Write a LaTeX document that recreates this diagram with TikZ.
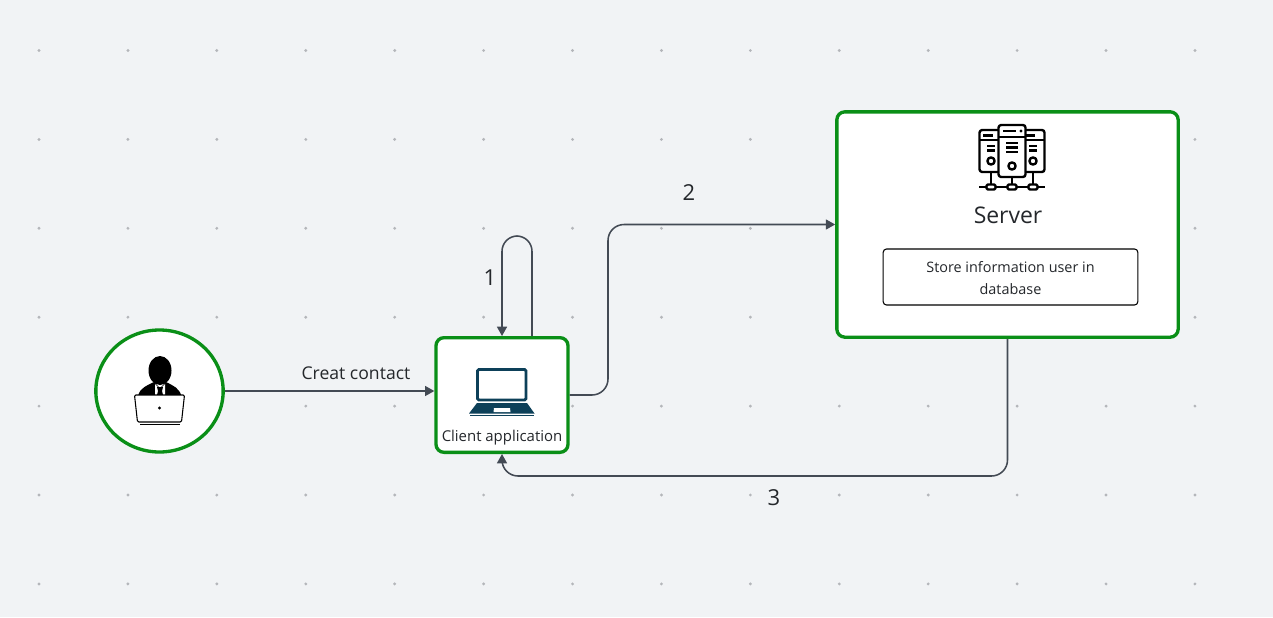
\documentclass[tikz,border=0pt]{standalone}
\usepackage{fontspec}
\setmainfont{Open Sans}
\usetikzlibrary{arrows.meta,shapes.geometric}
\definecolor{bgcol}{HTML}{F1F3F5}
\definecolor{dotcol}{HTML}{B4B6BA}
\definecolor{boxgreen}{HTML}{0A8F17}
\definecolor{linecol}{HTML}{434A54}
\definecolor{lapcol}{HTML}{0D4059}
\definecolor{txtcol}{HTML}{24272B}
\tikzset{
	>={Triangle[length=7pt,width=7.5pt]},
	greenbox/.style={draw=boxgreen,line width=2.5pt,fill=white,rounded corners=6pt,inner sep=0pt},
	conn/.style={draw=linecol,line width=1.15pt,->,rounded corners=12pt},
	lbl/.style={text=txtcol,font=\fontsize{13.2}{15}\selectfont,inner sep=0pt},
	num/.style={text=txtcol,font=\fontsize{16.5}{18}\selectfont,inner sep=0pt},
	icon/.style={line width=1.8pt,black,line join=round},
}
\begin{document}
\begin{tikzpicture}[x=0.75pt,y=-0.75pt]
	\fill[bgcol] (0,0) rectangle (1273,617);
	\useasboundingbox (0,0) rectangle (1273,617);

	% dotted canvas
	\foreach \i in {0,...,13}
	{
		\foreach \j in {0,...,6}
		{
			\def\x{39+88.92*\i}
			\def\y{50.5+88.9*\j}
			\fill[dotcol] ({\x},{\y}) circle (1.2pt);
		}
	}

	\node[ellipse,draw=boxgreen,line width=2.5pt,fill=white,minimum width=95.5pt,minimum height=91.5pt,inner sep=0pt] (user) at (159.5,391) {};
	\node[greenbox,minimum width=99pt,minimum height=86pt] (client) at (502,395) {};
	\node[greenbox,minimum width=256pt,minimum height=169pt] (server) at (1007.5,224.5) {};
	\node[draw=black,line width=0.8pt,fill=white,rounded corners=2.5pt,minimum width=191pt,minimum height=42pt,inner sep=0pt] (store) at (1010.5,277) {};
	\node[align=center,text=txtcol,font=\fontsize{10.8}{16.5}\selectfont,inner sep=0pt] (storetext) at (1010.5,278.5)
		{Store information user in\\database};

	\node[lbl,font=\fontsize{11.2}{13}\selectfont] (clientname) at (502,438) {Client application};
	\node[text=txtcol,font=\fontsize{17.2}{20}\selectfont,inner sep=0pt] (servername) at (1008,215) {Server};
	\node[lbl] (contact) at (356,373) {Creat contact};
	\node[num] (one) at (490,278) {1};
	\node[num] (two) at (689,193) {2};
	\node[num] (three) at (774,497.5) {3};

	\draw[conn] (user.east) -- (client.west |- user.east);
	\draw[conn,rounded corners=11.5pt] ([xshift=22.5pt]client.north) -- ++(0,-100) -| (client.north);
	\draw[conn] (client.east) -- (608,395) |- (server.west);
	\draw[conn] (server.south) |- (502,476) -- (client.south);

	% person at laptop
	\fill[black] (160,370.5) ellipse (11.5 and 14.5);
	\fill[black] (138,396) .. controls (140,388) and (146,386) .. (154,382) -- (160,388) -- (166,382) .. controls (174,386) and (179,388) .. (181.5,396) -- cycle;
	\fill[white] (155,384) -- (160,389) -- (165,384) -- (165,396) -- (155,396) -- cycle;
	\fill[black] (157,387) -- (163,387) -- (162,391) -- (163,395) -- (157,395) -- (158,391) -- cycle;
	\draw[black,line width=0.8pt,fill=white,rounded corners=1pt] (134.5,395) -- (184.5,395) -- (181.5,422) -- (137.5,422) -- cycle;
	\draw[black,line width=1.1pt] (140,424.5) -- (179.5,424.5);
	\fill[black] (159.5,408) circle (1.3pt);

	% laptop of the client
	\draw[lapcol,line width=2.1pt,rounded corners=1pt] (477.5,369.5) rectangle (526,400);
	\fill[lapcol] (477,403) -- (527,403) -- (534.5,413.5) -- (469,413.5) -- cycle;
	\fill[white] (494,408) -- (510,408) -- (510.5,412) -- (493.5,412) -- cycle;
	\draw[lapcol,line width=0.9pt] (470,415.5) -- (534,415.5);

	% server racks
	\foreach \x/\n in {991/0,1033/1}
	{
		\draw[icon,rounded corners=2pt] ({\x-11.5},130) rectangle ({\x+11.5},172);
		\draw[icon] ({\x-11.5},140) -- ({\x+11.5},140);
		\draw[icon] ({\x-8},135.5) -- ({\x+2},135.5);
		\draw[icon] ({\x-4},146) -- ({\x+4},146);
		\draw[icon] ({\x-4},150.5) -- ({\x+4},150.5);
		\draw[icon] (\x,161) circle (2.7pt);
		\draw[icon] (\x,172) -- (\x,184);
	}
	\draw[icon,fill=white,rounded corners=2pt] (998.5,125) rectangle (1025.5,177);
	\draw[icon] (998.5,137) -- (1025.5,137);
	\draw[icon] (1003,131) -- (1016,131);
	\fill[black] (1021,131) circle (1.2pt);
	\foreach \y in {143,147.5,152}
	{
		\draw[icon] (1006,\y) -- (1018,\y);
	}
	\draw[icon] (1012,166) circle (2.7pt);
	\draw[icon] (1012,177) -- (1012,184);
	\draw[icon] (979,187) -- (1045,187);
	\foreach \x in {991,1012,1033}
	{
		\draw[icon,fill=white,rounded corners=1pt] ({\x-4.5},184.5) rectangle ({\x+4.5},189.5);
	}
\end{tikzpicture}
\end{document}
